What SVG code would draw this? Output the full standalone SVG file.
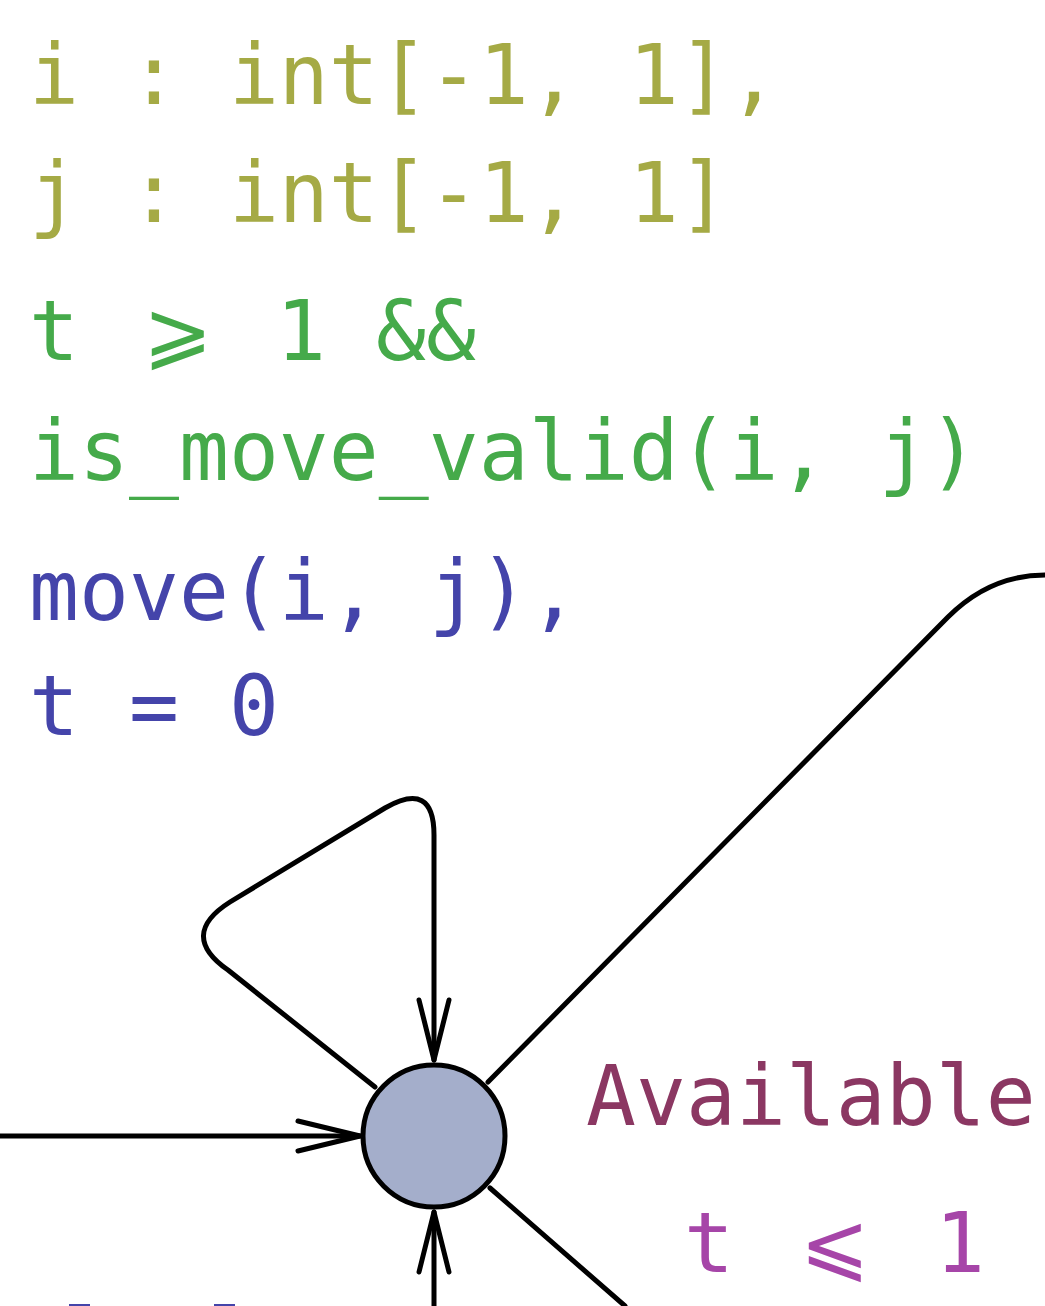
<svg xmlns="http://www.w3.org/2000/svg" width="1045" height="1306" viewBox="0 0 1045 1306">
<style>
text{font-family:"DejaVu Sans Mono","Liberation Mono",monospace;font-size:83px}
.sel{fill:#a5aa45}.grd{fill:#45aa4a}.upd{fill:#4444aa}.nm{fill:#8b3762}.inv{fill:#a645a8}
.e{fill:none;stroke:#000;stroke-width:5;stroke-linecap:round;stroke-linejoin:round}
</style>
<rect width="1045" height="1306" fill="#fff"/>
<g id="edges">
<path class="e" d="M375,1087 L228,970 Q178,935 230,902 L385,808 Q434,780 434,835 L434,1060"/>
<path class="e" d="M419,1000 L434,1060 L449,1000"/>
<path class="e" d="M0,1136 L360,1136"/>
<path class="e" d="M298,1121 L360,1136 L298,1151"/>
<path class="e" d="M434,1306 L434,1212"/>
<path class="e" d="M419,1272 L434,1212 L449,1272"/>
<path class="e" d="M488,1082 L948,617 Q990,575 1045,575"/>
<path class="e" d="M490,1188 L625,1306"/>
</g>
<g id="labels">
<text class="sel" x="29" y="104">i : int[-1, 1],</text>
<text class="sel" x="29" y="222">j : int[-1, 1]</text>
<text class="grd" y="360"><tspan x="29">t</tspan><tspan x="143">⩾</tspan><tspan x="276">1 &amp;&amp;</tspan></text>
<text class="grd" x="29" y="480">is_move_valid(i, j)</text>
<text class="upd" x="29" y="620">move(i, j),</text>
<text class="upd" x="29" y="735">t = 0</text>
<rect x="69" y="1304" width="21" height="2" fill="#4444aa"/>
<rect x="214" y="1304" width="21" height="2" fill="#4444aa"/>
</g>
<g id="node-available">
<circle cx="434" cy="1136" r="71" fill="#a4aecb" stroke="#000" stroke-width="5"/>
<text class="nm" x="586" y="1125">Available</text>
<text class="inv" y="1272"><tspan x="684">t</tspan><tspan x="800">⩽</tspan><tspan x="935">1</tspan></text>
</g>
</svg>
